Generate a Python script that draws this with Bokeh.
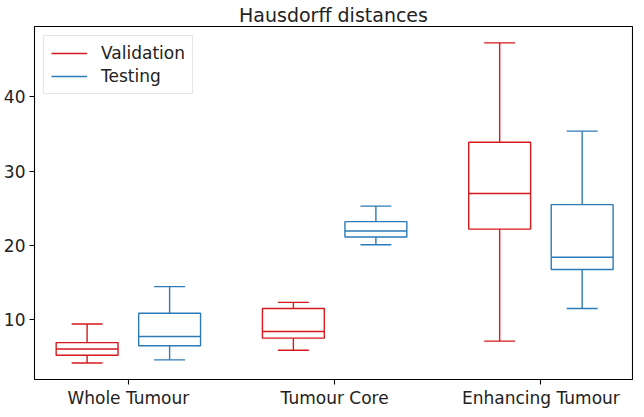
from bokeh.plotting import figure
from bokeh.models import FixedTicker, Range1d, ColumnDataSource
from bokeh.embed import file_html
from bokeh.resources import INLINE

categories = ["Whole Tumour", "Tumour Core", "Enhancing Tumour"]
series_names = ["Validation", "Testing"]
series_colors = ["#D7191C", "#2C7BB6"]

val_low = [4.15, 5.87, 7.1]
val_q1 = [5.2, 7.5, 22.2]
val_med = [6.05, 8.39, 27.0]
val_q3 = [6.9, 11.49, 33.9]
val_high = [9.4, 12.32, 47.3]

test_low = [4.58, 20.08, 11.49]
test_q1 = [6.48, 21.14, 16.76]
test_med = [7.73, 21.94, 18.4]
test_q3 = [10.86, 23.2, 25.5]
test_high = [14.45, 25.3, 35.4]

y_ticks = [10, 20, 30, 40]

FONT = "DejaVu Sans"
TXT = "#222222"

p = figure(width=628, height=401, output_backend="svg", toolbar_location=None,
           x_range=Range1d(-0.455, 2.444), y_range=Range1d(1.93, 49.5),
           min_border_left=29, min_border_right=1, min_border_top=20, min_border_bottom=28,
           frame_width=598, frame_height=353)

p.title.text = "Hausdorff distances"
p.title.align = "center"
p.title.text_font = FONT
p.title.text_font_size = "19px"
p.title.text_font_style = "normal"
p.title.text_color = TXT
p.title.standoff = 2

offset = 0.2
box_w = 0.3
cap_w = 0.15

series = [
    (series_names[0], series_colors[0], -offset, val_low, val_q1, val_med, val_q3, val_high),
    (series_names[1], series_colors[1], offset, test_low, test_q1, test_med, test_q3, test_high),
]

for name, color, off, lo, q1, med, q3, hi in series:
    xs = [i + off for i in range(len(categories))]
    src = ColumnDataSource(dict(
        x=xs,
        left=[x - box_w / 2 for x in xs],
        right=[x + box_w / 2 for x in xs],
        cl=[x - cap_w / 2 for x in xs],
        cr=[x + cap_w / 2 for x in xs],
        lo=lo, q1=q1, med=med, q3=q3, hi=hi,
    ))
    lw = 1.4
    # whiskers
    p.segment(x0="x", y0="q3", x1="x", y1="hi", source=src, line_color=color, line_width=lw,
              legend_label=name)
    p.segment(x0="x", y0="lo", x1="x", y1="q1", source=src, line_color=color, line_width=lw)
    # caps
    p.segment(x0="cl", y0="hi", x1="cr", y1="hi", source=src, line_color=color, line_width=lw)
    p.segment(x0="cl", y0="lo", x1="cr", y1="lo", source=src, line_color=color, line_width=lw)
    # boxes
    p.quad(left="left", right="right", bottom="q1", top="q3", source=src,
           fill_color=None, line_color=color, line_width=lw)
    # medians
    p.segment(x0="left", y0="med", x1="right", y1="med", source=src, line_color=color, line_width=lw)

p.xgrid.visible = False
p.ygrid.visible = False
p.outline_line_color = "black"
p.outline_line_width = 1.1
p.background_fill_color = "white"
p.border_fill_color = "white"

p.xaxis.ticker = FixedTicker(ticks=list(range(len(categories))))
p.xaxis.major_label_overrides = {i: c for i, c in enumerate(categories)}
p.yaxis.ticker = FixedTicker(ticks=y_ticks)

for ax in (p.xaxis[0], p.yaxis[0]):
    ax.axis_line_color = None
    ax.major_tick_line_color = "black"
    ax.major_tick_line_width = 1.1
    ax.major_tick_out = 5
    ax.major_tick_in = 0
    ax.minor_tick_line_color = None
    ax.major_label_text_font = FONT
    ax.major_label_text_font_size = "17px"
    ax.major_label_text_color = TXT
p.xaxis.major_label_standoff = 3
p.yaxis.major_label_standoff = 4

p.legend.location = "top_left"
p.legend.margin = 9
p.legend.padding = 7
p.legend.spacing = 3
p.legend.label_text_font = FONT
p.legend.label_text_font_size = "17px"
p.legend.label_text_color = TXT
p.legend.label_height = 20
p.legend.glyph_width = 36
p.legend.label_standoff = 14
p.legend.border_line_color = "#cccccc"
p.legend.border_line_width = 1
p.legend.background_fill_alpha = 0.8

open("out.html", "w").write(file_html(p, INLINE))
